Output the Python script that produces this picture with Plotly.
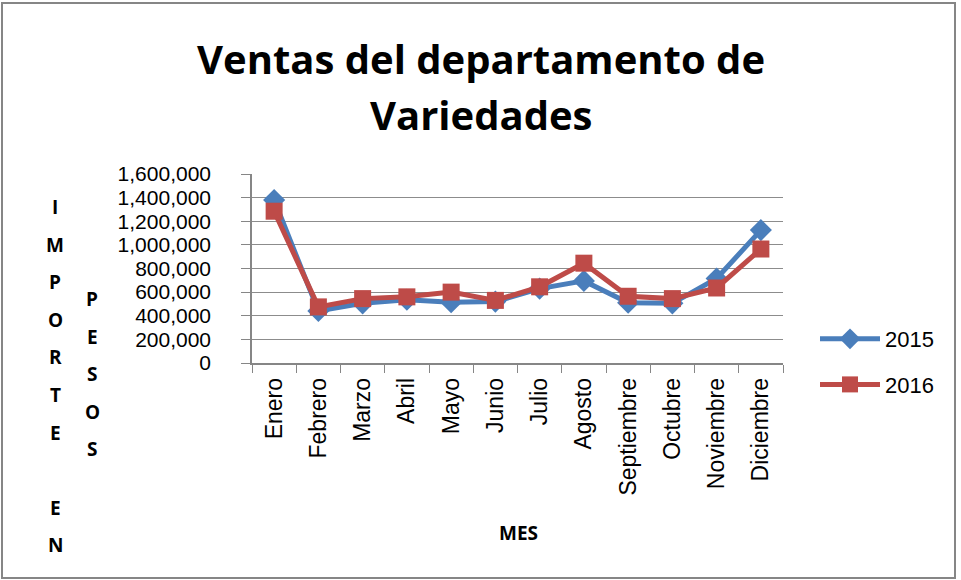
import plotly.graph_objects as go

meses = ['Enero', 'Febrero', 'Marzo', 'Abril', 'Mayo', 'Junio', 'Julio',
         'Agosto', 'Septiembre', 'Octubre', 'Noviembre', 'Diciembre']
ventas_2015 = [1380000, 440000, 505000, 535000, 515000, 520000, 630000,
               695000, 510000, 505000, 715000, 1125000]
ventas_2016 = [1285000, 475000, 545000, 560000, 600000, 530000, 645000,
               845000, 565000, 545000, 635000, 965000]

W, H = 961, 580
L, R, T, B = 252, 178, 174, 217
pw, ph = W - L - R, H - T - B

def px(x):
    return (x - L) / pw

def py(y):
    return (H - B - y) / ph

TITLE_FONT = 'Open Sans'
TICK_FONT = 'Liberation Sans'

fig = go.Figure()
fig.add_trace(go.Scatter(x=meses, y=ventas_2015, name='2015', mode='lines+markers',
                         legendgroup='a',
                         line=dict(color='#4A7EBB', width=5),
                         marker=dict(symbol='diamond', size=17, color='#4A7EBB')))
fig.add_trace(go.Scatter(x=meses, y=ventas_2016, name='2016', mode='lines+markers',
                         legendgroup='b',
                         line=dict(color='#BE4B48', width=5),
                         marker=dict(symbol='square', size=17, color='#BE4B48')))

def label(text, x, y, size):
    return dict(text='<b>%s</b>' % text, xref='paper', yref='paper',
                x=px(x), y=py(y), xanchor='center', yanchor='middle',
                showarrow=False, font=dict(size=size, color='black', family=TITLE_FONT))

annotations = [label('Ventas del departamento de', 481, 58, 40),
               label('Variedades', 481, 114, 40),
               label('MES', 518, 533, 19)]

# vertical axis title, one letter per row like the original
col1 = ['I', 'M', 'P', 'O', 'R', 'T', 'E', '', 'E', 'N']
col2 = ['P', 'E', 'S', 'O', 'S']
for i, ch in enumerate(col1):
    if ch:
        annotations.append(label(ch, 55, 207 + i * 37.6, 19))
for i, ch in enumerate(col2):
    annotations.append(label(ch, 92, 299 + i * 37.5, 19))

fig.update_layout(
    width=W, height=H,
    margin=dict(l=L, r=R, t=T, b=B),
    paper_bgcolor='white', plot_bgcolor='white',
    font=dict(family=TICK_FONT, color='black'),
    showlegend=True,
    legend=dict(x=px(815), y=py(318), xanchor='left', yanchor='top',
                font=dict(size=22), tracegroupgap=14, traceorder='grouped',
                itemwidth=60),
    xaxis=dict(type='category', showgrid=False, showline=True, linecolor='#868686',
               linewidth=1.5, ticks='outside', tickson='boundaries', ticklen=8,
               tickcolor='#868686', tickangle=-90, tickfont=dict(size=23),
               ticklabelstandoff=4, range=[-0.5, 11.5]),
    yaxis=dict(range=[0, 1600000], dtick=200000, tickformat=',d',
               showgrid=True, gridcolor='#8C8C8C', gridwidth=1.3,
               showline=True, linecolor='#868686', linewidth=1.5,
               ticks='outside', ticklen=9, tickcolor='#868686',
               tickfont=dict(size=21), ticklabelstandoff=26, zeroline=False),
    annotations=annotations,
    shapes=[dict(type='rect', xref='paper', yref='paper',
                 x0=px(2), x1=px(955), y0=py(3), y1=py(578),
                 line=dict(color='#868686', width=2), layer='below')],
)

fig.write_html('out.html', config={'displayModeBar': False},
               post_script="document.body.style.margin='0px';")
